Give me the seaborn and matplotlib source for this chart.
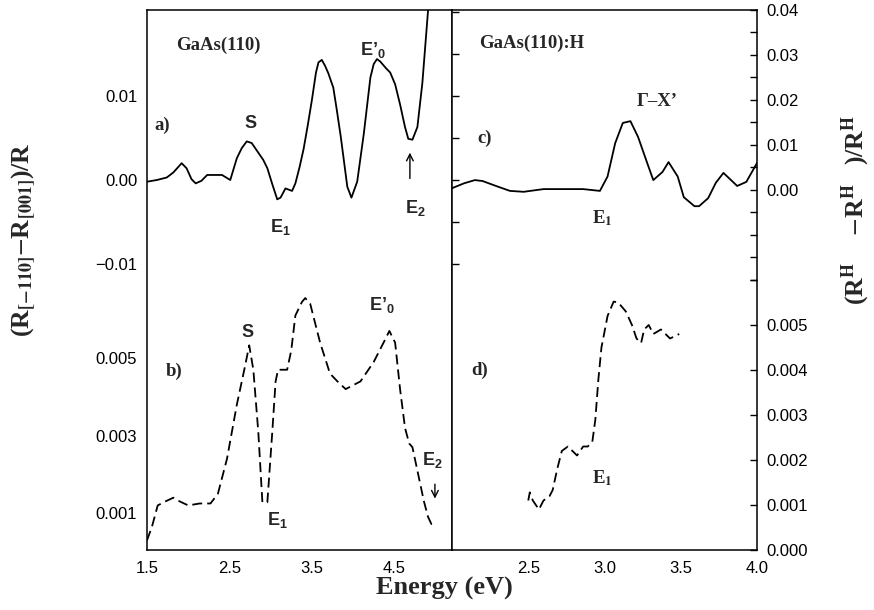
import matplotlib
matplotlib.use("Agg")
import matplotlib.pyplot as plt
import seaborn as sns
import pandas as pd
from matplotlib.ticker import FixedLocator, FixedFormatter

# ---------------- data ----------------
energy_a = [1.50, 1.62, 1.74, 1.82, 1.92, 1.98, 2.04, 2.09, 2.16, 2.23, 2.32, 2.41, 2.51,
            2.59, 2.65, 2.71, 2.77, 2.84, 2.91, 2.96, 3.02, 3.08, 3.12, 3.18, 3.26, 3.30,
            3.35, 3.40, 3.45, 3.50, 3.55, 3.58, 3.62, 3.66, 3.70, 3.76, 3.80, 3.85, 3.93,
            3.98, 4.05, 4.13, 4.21, 4.25, 4.29, 4.33, 4.40, 4.45, 4.51, 4.57, 4.63, 4.67,
            4.72, 4.78, 4.84, 4.92]
signal_a = [-0.0002, 0.0000, 0.0003, 0.0009, 0.0020, 0.0014, 0.0001, -0.0004, -0.0001,
            0.0006, 0.0006, 0.0006, 0.0000, 0.0026, 0.0038, 0.0046, 0.0044, 0.0034, 0.0024,
            0.0014, -0.0005, -0.0023, -0.0021, -0.0010, -0.0013, -0.0004, 0.0015, 0.0037,
            0.0065, 0.0095, 0.0128, 0.0140, 0.0143, 0.0136, 0.0127, 0.0110, 0.0085, 0.0052,
            -0.0008, -0.0021, -0.0002, 0.0055, 0.0122, 0.0138, 0.0144, 0.0141, 0.0133,
            0.0128, 0.0114, 0.0090, 0.0063, 0.0049, 0.0048, 0.0063, 0.0115, 0.0215]

energy_b = [1.50, 1.56, 1.63, 1.72, 1.82, 1.90, 2.00, 2.14, 2.27, 2.36, 2.47, 2.59, 2.69,
            2.74, 2.79, 2.85, 2.90, 2.96, 3.02, 3.06, 3.09, 3.14, 3.20, 3.25, 3.30, 3.38,
            3.42, 3.48, 3.60, 3.72, 3.81, 3.91, 4.09, 4.25, 4.37, 4.44, 4.51, 4.57, 4.63,
            4.68, 4.72, 4.80, 4.86, 4.91, 4.95, 5.00]
signal_b = [0.00030, 0.00065, 0.00120, 0.00130, 0.00140, 0.00130, 0.00120, 0.00125,
            0.00125, 0.00150, 0.00240, 0.00380, 0.00480, 0.00533, 0.00470, 0.00310,
            0.00128, 0.00128, 0.00310, 0.00440, 0.00470, 0.00470, 0.00470, 0.00520,
            0.00610, 0.00645, 0.00655, 0.00640, 0.00540, 0.00460, 0.00440, 0.00420,
            0.00440, 0.00490, 0.00540, 0.00570, 0.00540, 0.00420, 0.00320, 0.00280,
            0.00270, 0.00190, 0.00130, 0.00090, 0.00072, 0.00078]

energy_c = [2.00, 2.08, 2.15, 2.20, 2.28, 2.38, 2.47, 2.60, 2.71, 2.86, 2.97, 3.02, 3.07,
            3.12, 3.17, 3.22, 3.28, 3.32, 3.38, 3.42, 3.48, 3.52, 3.59, 3.62, 3.68, 3.73,
            3.78, 3.87, 3.93, 4.00]
signal_c = [0.0004, 0.0015, 0.0022, 0.0020, 0.0010, -0.0002, -0.0004, 0.0002, 0.0002,
            0.0002, -0.0002, 0.0030, 0.0104, 0.0149, 0.0153, 0.0118, 0.0060, 0.0022,
            0.0040, 0.0062, 0.0030, -0.0016, -0.0036, -0.0036, -0.0018, 0.0016, 0.0038,
            0.0009, 0.0018, 0.0060]

energy_d = [2.50, 2.51, 2.53, 2.55, 2.57, 2.60, 2.64, 2.66, 2.69, 2.72, 2.76, 2.79, 2.82,
            2.86, 2.89, 2.92, 2.94, 2.96, 2.98, 3.02, 3.06, 3.09, 3.14, 3.18, 3.21, 3.24,
            3.26, 3.29, 3.32, 3.37, 3.40, 3.43, 3.49]
signal_d = [0.00110, 0.00128, 0.00110, 0.00100, 0.00090, 0.00110, 0.00120, 0.00133,
            0.00180, 0.00220, 0.00230, 0.00220, 0.00210, 0.00230, 0.00230, 0.00240,
            0.00290, 0.00380, 0.00450, 0.00520, 0.00552, 0.00550, 0.00530, 0.00500,
            0.00470, 0.00460, 0.00490, 0.00500, 0.00480, 0.00490, 0.00480, 0.00470,
            0.00480]

left_xticks = [1.5, 2.0, 2.5, 3.0, 3.5, 4.0, 4.5, 5.0]
left_xticklabels = ["1.5", "", "2.5", "", "3.5", "", "4.5", ""]
right_xticks = [2.1, 2.2, 2.3, 2.4, 2.5, 2.6, 2.7, 2.8, 2.9, 3.0, 3.1, 3.2, 3.3, 3.4,
                3.5, 3.6, 3.7, 3.8, 3.9, 4.0]
right_xticklabels = ["", "", "", "", "2.5", "", "", "", "", "3.0", "", "", "", "",
                     "3.5", "", "", "", "", "4.0"]
a_yticks = [-0.01, 0.0, 0.01]
a_yticklabels = ["\u22120.01", "0.00", "0.01"]
a_inner_ticks = [-0.01, -0.005, 0.0, 0.005, 0.01, 0.015, 0.02]
b_yticks = [0.001, 0.002, 0.003, 0.004, 0.005, 0.006, 0.007]
b_yticklabels = ["0.001", "", "0.003", "", "0.005", "", ""]
c_yticks = [-0.02, -0.015, -0.01, -0.005, 0.0, 0.005, 0.01, 0.015, 0.02, 0.025, 0.03,
            0.035, 0.04]
c_yticklabels = ["", "", "", "", "0.00", "", "0.01", "", "0.02", "", "0.03", "", "0.04"]
d_yticks = [0.0, 0.001, 0.002, 0.003, 0.004, 0.005, 0.006]
d_yticklabels = ["0.000", "0.001", "0.002", "0.003", "0.004", "0.005", ""]

df_a = pd.DataFrame({"Energy": energy_a, "signal": signal_a})
df_b = pd.DataFrame({"Energy": energy_b, "signal": signal_b})
df_c = pd.DataFrame({"Energy": energy_c, "signal": signal_c})
df_d = pd.DataFrame({"Energy": energy_d, "signal": signal_d})

# ---------------- style ----------------
sns.set_theme(style="white")
plt.rcParams["font.family"] = ["Liberation Sans", "DejaVu Sans"]
plt.rcParams["mathtext.fontset"] = "custom"
plt.rcParams["mathtext.rm"] = "Liberation Sans"
plt.rcParams["mathtext.bf"] = "Liberation Sans:bold"
plt.rcParams["mathtext.it"] = "Liberation Sans:italic"
plt.rcParams["axes.linewidth"] = 1.1
plt.rcParams["axes.edgecolor"] = "black"

SERIF = ["Liberation Serif", "DejaVu Serif"]
TICK_FS = 12
LW = 1.3
DASH = (0, (5.5, 2.8))

fig = plt.figure(figsize=(8.74, 6.10), dpi=100)
W, H = 874.0, 610.0
rect_left = [147 / W, 60 / H, 305 / W, 540 / H]
rect_right = [452 / W, 60 / H, 305 / W, 540 / H]

ax_a = fig.add_axes(rect_left)
ax_b = fig.add_axes(rect_left, sharex=ax_a, facecolor="none")
ax_c = fig.add_axes(rect_right)
ax_r = fig.add_axes(rect_right, sharex=ax_c, facecolor="none")
ax_d = fig.add_axes(rect_right, sharex=ax_c, facecolor="none")

sns.lineplot(data=df_a, x="Energy", y="signal", ax=ax_a, color="black", lw=LW,
             estimator=None, sort=False)
sns.lineplot(data=df_b, x="Energy", y="signal", ax=ax_b, color="black", lw=LW,
             estimator=None, sort=False, linestyle=DASH)
sns.lineplot(data=df_c, x="Energy", y="signal", ax=ax_c, color="black", lw=LW,
             estimator=None, sort=False)
sns.lineplot(data=df_d, x="Energy", y="signal", ax=ax_d, color="black", lw=LW,
             estimator=None, sort=False, linestyle=DASH)

for ax in (ax_a, ax_b, ax_c, ax_r, ax_d):
    ax.set_xlabel("")
    ax.set_ylabel("")
    ax.tick_params(direction="in", length=5, width=1, colors="black",
                   labelsize=TICK_FS, pad=7)

# left panel
ax_a.set_xlim(1.5, 5.2)
ax_a.set_ylim(-0.04405, 0.02024)
ax_b.set_ylim(0.00005, 0.01398)
ax_a.xaxis.set_major_locator(FixedLocator(left_xticks))
ax_a.xaxis.set_major_formatter(FixedFormatter(left_xticklabels))
ax_a.yaxis.set_major_locator(FixedLocator(a_yticks))
ax_a.yaxis.set_major_formatter(FixedFormatter(a_yticklabels))
ax_a.tick_params(axis="x", pad=8)
for s in ax_b.spines.values():
    s.set_visible(False)
ax_b.tick_params(axis="x", bottom=False, labelbottom=False)
ax_b.yaxis.set_major_locator(FixedLocator(b_yticks))
ax_b.yaxis.set_major_formatter(FixedFormatter(b_yticklabels))

# right panel
ax_c.set_xlim(2.0, 4.0)
ax_c.set_ylim(-0.08, 0.04)
ax_c.xaxis.set_major_locator(FixedLocator(right_xticks))
ax_c.xaxis.set_major_formatter(FixedFormatter(right_xticklabels))
ax_c.tick_params(axis="x", pad=8)
ax_c.yaxis.tick_right()
ax_c.yaxis.set_major_locator(FixedLocator(c_yticks))
ax_c.yaxis.set_major_formatter(FixedFormatter(c_yticklabels))
ax_c.tick_params(axis="y", left=False, right=True, labelleft=False, labelright=True)

ax_d.set_ylim(0.0, 0.012)
for s in ax_d.spines.values():
    s.set_visible(False)
ax_d.tick_params(axis="x", bottom=False, labelbottom=False)
ax_d.yaxis.tick_right()
ax_d.yaxis.set_major_locator(FixedLocator(d_yticks))
ax_d.yaxis.set_major_formatter(FixedFormatter(d_yticklabels))
ax_d.tick_params(axis="y", left=False, right=True, labelleft=False, labelright=True)

# inner ticks on the shared border (upper-panel scale)
ax_r.set_ylim(ax_a.get_ylim())
for s in ax_r.spines.values():
    s.set_visible(False)
ax_r.tick_params(axis="x", bottom=False, labelbottom=False)
ax_r.yaxis.set_major_locator(FixedLocator(a_inner_ticks))
ax_r.tick_params(axis="y", left=True, labelleft=False)

# ---------------- annotations ----------------
def sans(ax, x, y, s, fs=13):
    ax.text(x, y, s, transform=ax.transAxes, ha="center", va="center", fontsize=fs,
            fontweight="bold", family=["Liberation Sans", "DejaVu Sans"],
            math_fontfamily="custom")

def serif(ax, x, y, s, fs=13.5):
    ax.text(x, y, s, transform=ax.transAxes, ha="center", va="center", fontsize=fs,
            fontweight="bold", family=SERIF, math_fontfamily="stix")

serif(ax_a, 0.233, 0.935, "GaAs(110)")
serif(ax_a, 0.050, 0.787, "a)")
sans(ax_a, 0.338, 0.789, "S")
sans(ax_a, 0.436, 0.598, r"E$_{\mathbf{1}}$")
sans(ax_a, 0.741, 0.926, r"E’$_{\mathbf{0}}$")
sans(ax_a, 0.879, 0.633, r"E$_{\mathbf{2}}$")
ax_a.annotate("", xy=(0.862, 0.741), xytext=(0.862, 0.683), xycoords="axes fraction",
              arrowprops=dict(arrowstyle="->", lw=1.0, color="black"))

serif(ax_a, 0.089, 0.330, "b)")
sans(ax_a, 0.331, 0.402, "S")
sans(ax_a, 0.426, 0.056, r"E$_{\mathbf{1}}$")
sans(ax_a, 0.770, 0.454, r"E’$_{\mathbf{0}}$")
sans(ax_a, 0.934, 0.167, r"E$_{\mathbf{2}}$")
ax_a.annotate("", xy=(0.944, 0.090), xytext=(0.944, 0.127), xycoords="axes fraction",
              arrowprops=dict(arrowstyle="->", lw=1.0, color="black"))

serif(ax_c, 0.262, 0.939, "GaAs(110):H")
serif(ax_c, 0.108, 0.763, "c)")
serif(ax_c, 0.672, 0.830, "\u0393\u2013X\u2019")
serif(ax_c, 0.492, 0.615, r"E$_{\mathbf{1}}$", fs=13.5)
serif(ax_c, 0.092, 0.333, "d)")
serif(ax_c, 0.492, 0.133, r"E$_{\mathbf{1}}$", fs=13.5)

# axis labels
fig.text(444 / W, 1 - 588 / H, "Energy (eV)", ha="center", va="center", fontsize=19,
         fontweight="bold", family=SERIF)
fig.text(24 / W, 1 - 240 / H, r"(R$_{\mathbf{[-110]}}$$-$R$_{\mathbf{[001]}}$)/R",
         rotation=90, ha="center", va="center", fontsize=18.5, fontweight="bold",
         family=SERIF, math_fontfamily="stix")
# right label: subscripts are cut off by the page edge in the reference,
# so only the visible part is drawn, with matching gaps
fig.text(872 / W, 1 - 210 / H,
         r"(R$^{\mathbf{H}}\quad\;\,$$-$R$^{\mathbf{H}}\quad$)/R$^{\mathbf{H}}$",
         rotation=90, ha="right", va="center", fontsize=18.5, fontweight="bold",
         family=SERIF, math_fontfamily="stix")

fig.savefig("out.png", dpi=100)
